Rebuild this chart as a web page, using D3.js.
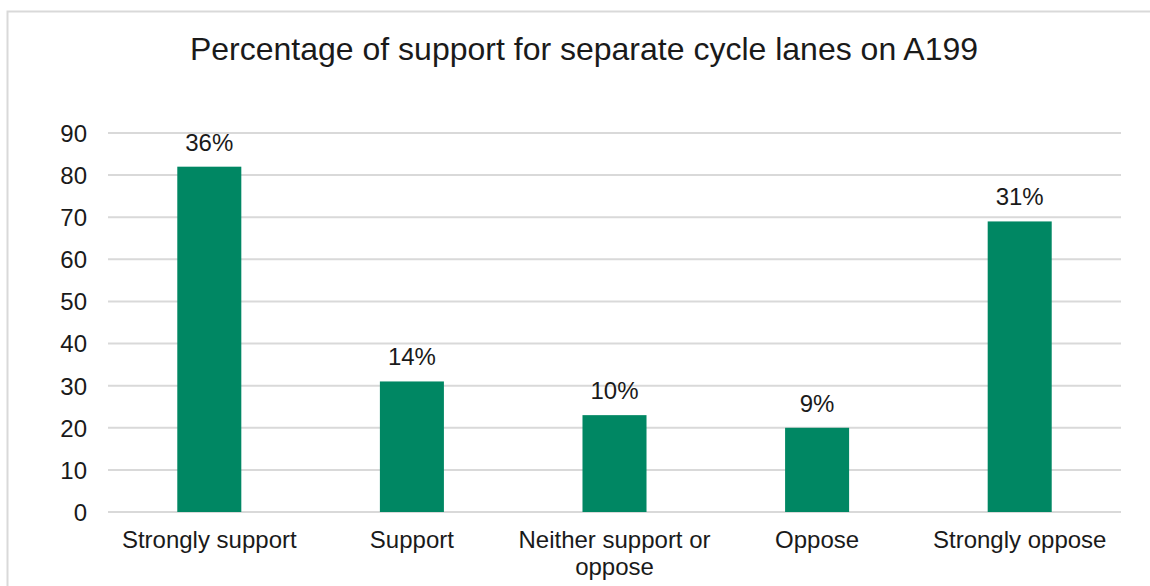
<!DOCTYPE html>
<html>
<head>
<meta charset="utf-8">
<script src="https://cdn.jsdelivr.net/npm/d3@7"></script>
<style>
  body { margin: 0; background: #fff; }
  svg text { font-family: "Liberation Sans", Arial, sans-serif; fill: #1a1a1a; }
</style>
</head>
<body>
<svg width="1150" height="586"></svg>
<script>
var categories = ["Strongly support", "Support", "Neither support or oppose", "Oppose", "Strongly oppose"];
var counts = [82, 31, 23, 20, 69];
var percentLabels = ["36%", "14%", "10%", "9%", "31%"];
var yTicks = [0, 10, 20, 30, 40, 50, 60, 70, 80, 90];

var svg = d3.select("svg"),
    width = +svg.attr("width"),
    height = +svg.attr("height");

var margin = {top: 133, right: 29, bottom: 74, left: 108};

// chart frame, runs off the right and bottom edges like the original
svg.append("rect")
    .attr("x", 7.5).attr("y", 11.5)
    .attr("width", 1160).attr("height", 600)
    .attr("fill", "#fff")
    .attr("stroke", "#d9d9d9")
    .attr("stroke-width", 2);

svg.append("text")
    .attr("x", 584)
    .attr("y", 60)
    .attr("text-anchor", "middle")
    .style("font-size", "32px")
    .text("Percentage of support for separate cycle lanes on A199");

var x = d3.scaleBand()
    .domain(categories)
    .range([margin.left, width - margin.right])
    .paddingInner(0.684)
    .paddingOuter(0.342);

var y = d3.scaleLinear()
    .domain([0, 90])
    .range([height - margin.bottom, margin.top]);

var g = svg.append("g");

// gridlines
g.append("g")
    .selectAll("line")
    .data(yTicks)
    .enter().append("line")
      .attr("x1", margin.left)
      .attr("x2", width - margin.right)
      .attr("y1", function(d) { return y(d); })
      .attr("y2", function(d) { return y(d); })
      .attr("stroke", "#d9d9d9")
      .attr("stroke-width", 2);

var yAxis = g.append("g")
    .attr("transform", "translate(" + margin.left + ",0)")
    .call(d3.axisLeft(y).tickValues(yTicks).tickSize(0).tickPadding(21));
yAxis.select(".domain").remove();
yAxis.selectAll("text")
    .style("font-size", "24px")
    .attr("dy", "0.35em")
    .attr("font-family", null);

g.append("g")
    .selectAll("rect")
    .data(counts)
    .enter().append("rect")
      .attr("x", function(d, i) { return x(categories[i]); })
      .attr("y", function(d) { return y(d); })
      .attr("width", x.bandwidth())
      .attr("height", function(d) { return y(0) - y(d); })
      .attr("fill", "#008763");

g.append("g")
    .selectAll("text")
    .data(counts)
    .enter().append("text")
      .attr("x", function(d, i) { return x(categories[i]) + x.bandwidth() / 2; })
      .attr("y", function(d) { return y(d) - 16; })
      .attr("text-anchor", "middle")
      .style("font-size", "24px")
      .text(function(d, i) { return percentLabels[i]; });

// category labels, wrapped like Excel does
var wrapWidth = x.step() - 10;
var catLabels = g.append("g")
    .selectAll("text")
    .data(categories)
    .enter().append("text")
      .attr("x", function(d) { return x(d) + x.bandwidth() / 2; })
      .attr("y", height - margin.bottom + 36)
      .attr("text-anchor", "middle")
      .style("font-size", "24px");

catLabels.each(function(d) {
  var text = d3.select(this),
      words = d.split(" "),
      line = [],
      cx = text.attr("x"),
      tspan = text.append("tspan").attr("x", cx);
  words.forEach(function(w) {
    line.push(w);
    tspan.text(line.join(" "));
    if (tspan.node().getComputedTextLength() > wrapWidth && line.length > 1) {
      line.pop();
      tspan.text(line.join(" "));
      line = [w];
      tspan = text.append("tspan").attr("x", cx).attr("dy", 27).text(w);
    }
  });
});
</script>
</body>
</html>
